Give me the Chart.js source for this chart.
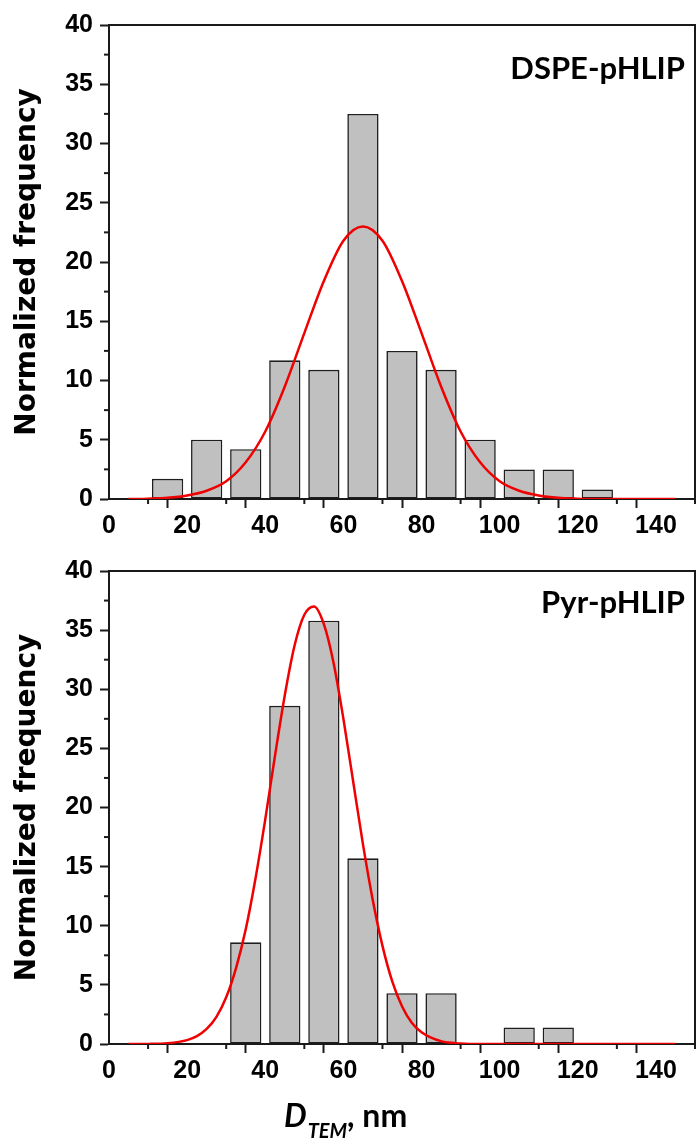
<!DOCTYPE html>
<html lang="en">

<head>
    <meta charset="UTF-8">
    <title>TEM size distribution</title>
    <style>
        body {
            margin: 0;
            background-color: #ffffff;
        }

        .panel {
            position: relative;
            width: 698px;
        }

        #topPanel {
            height: 545px;
        }

        #bottomPanel {
            height: 598px;
        }
    </style>
</head>

<body>
    <div class="panel" id="topPanel"><canvas id="dspeChart"></canvas></div>
    <div class="panel" id="bottomPanel"><canvas id="pyrChart"></canvas></div>

    <script src="https://cdn.jsdelivr.net/npm/chart.js"></script>
    <script>
        // histogram bins (nm) and normalized frequencies
        const binCenters = [15, 25, 35, 45, 55, 65, 75, 85, 95, 105, 115, 125];
        const dspeFreq = [1.7, 5.0, 4.2, 11.7, 10.9, 32.5, 12.5, 10.9, 5.0, 2.5, 2.5, 0.8];
        const pyrFreq = [null, null, 8.6, 28.6, 35.8, 15.7, 4.3, 4.3, null, 1.4, 1.4, null];

        // fitted curves
        const dspeFitX = [5, 10, 15, 20, 25, 30, 35, 40, 45, 50, 55, 60, 65, 70, 75, 80, 85, 90, 95, 100, 105, 110, 115, 120, 125, 130, 135, 140, 145];
        const dspeFitY = [0, 0.03, 0.1, 0.3, 0.7, 1.5, 3.1, 5.7, 9.5, 14.0, 18.4, 21.8, 23.0, 21.8, 18.4, 14.0, 9.5, 5.7, 3.1, 1.5, 0.7, 0.3, 0.1, 0.03, 0, 0, 0, 0, 0];
        const pyrFitX = [5, 10, 15, 20, 22.5, 25, 27.5, 30, 32.5, 35, 37.5, 40, 42.5, 45, 47.5, 50, 52.5, 55, 57.5, 60, 62.5, 65, 67.5, 70, 72.5, 75, 77.5, 80, 85, 90, 95, 100, 110, 120, 130, 140, 145];
        const pyrFitY = [0, 0.01, 0.07, 0.33, 0.66, 1.27, 2.3, 3.95, 6.4, 9.7, 14.0, 19.0, 24.4, 29.5, 33.7, 36.3, 37.0, 35.5, 32.2, 27.5, 22.2, 16.9, 12.2, 8.3, 5.3, 3.2, 1.8, 1.0, 0.24, 0.05, 0, 0, 0, 0, 0, 0, 0];

        const xTicks = { min: 0, max: 150, step: 10, labelEvery: 20 };
        const yTicks = { min: 0, max: 40, step: 2.5, labelEvery: 5 };

        const axisColor = '#1a1a1a';
        const tickFont = { family: 'Liberation Sans', weight: 'bold', size: 25 };

        // short ticks for the unlabeled positions, plus the top/right frame
        const minorTicks = {
            id: 'minorTicks',
            afterDraw(chart) {
                const ctx = chart.ctx;
                ctx.save();
                ctx.strokeStyle = axisColor;
                ctx.lineWidth = 2;
                const xs = chart.scales.x, ys = chart.scales.y;
                xs.ticks.forEach(t => {
                    if (t.value % xTicks.labelEvery !== 0) {
                        const px = xs.getPixelForValue(t.value);
                        ctx.beginPath();
                        ctx.moveTo(px, chart.chartArea.bottom);
                        ctx.lineTo(px, chart.chartArea.bottom + 5);
                        ctx.stroke();
                    }
                });
                ys.ticks.forEach(t => {
                    if (t.value % yTicks.labelEvery !== 0) {
                        const py = ys.getPixelForValue(t.value);
                        ctx.beginPath();
                        ctx.moveTo(chart.chartArea.left, py);
                        ctx.lineTo(chart.chartArea.left - 5, py);
                        ctx.stroke();
                    }
                });
                const a = chart.chartArea;
                ctx.beginPath();
                ctx.moveTo(a.left, a.top);
                ctx.lineTo(a.right, a.top);
                ctx.lineTo(a.right, a.bottom);
                ctx.stroke();
                ctx.restore();
            }
        };

        const panelLabel = {
            id: 'panelLabel',
            afterDraw(chart, args, opts) {
                const ctx = chart.ctx;
                ctx.save();
                ctx.font = 'bold 31px Lato';
                ctx.fillStyle = '#000';
                ctx.textAlign = 'right';
                ctx.textBaseline = 'alphabetic';
                ctx.fillText(opts.text, opts.x, opts.y);
                ctx.restore();
            }
        };

        // "D_TEM, nm" with italic subscript
        const xTitle = {
            id: 'xTitle',
            afterDraw(chart, args, opts) {
                if (!opts.show) return;
                const ctx = chart.ctx;
                ctx.save();
                ctx.fillStyle = '#000';
                ctx.textBaseline = 'alphabetic';
                let x = opts.x;
                const y = opts.y;
                ctx.font = 'italic bold 32px Lato';
                ctx.fillText('D', x, y);
                x += ctx.measureText('D').width + 1;
                ctx.font = 'italic bold 20px Lato';
                ctx.fillText('TEM', x, y + 11);
                x += ctx.measureText('TEM').width;
                ctx.font = 'bold 32px Lato';
                ctx.fillText(', nm', x, y);
                ctx.restore();
            }
        };

        function makeChart(id, freq, fitX, fitY, label, opts) {
            const ctx = document.getElementById(id).getContext('2d');
            return new Chart(ctx, {
                type: 'bar',
                data: {
                    datasets: [{
                        type: 'line',
                        data: fitX.map((x, i) => ({ x: x, y: fitY[i] })),
                        borderColor: '#f00000',
                        borderWidth: 2.5,
                        pointRadius: 0,
                        cubicInterpolationMode: 'monotone',
                        order: 0
                    }, {
                        type: 'bar',
                        data: binCenters.map((x, i) => ({ x: x, y: freq[i] })),
                        backgroundColor: '#c0c0c0',
                        borderColor: '#1e1e1e',
                        borderWidth: 1.6,
                        borderSkipped: false,
                        barPercentage: 0.8,
                        categoryPercentage: 1.0,
                        order: 1
                    }]
                },
                options: {
                    responsive: true,
                    maintainAspectRatio: false,
                    animation: false,
                    layout: { padding: { top: opts.top, right: 1, left: 0, bottom: 0 } },
                    plugins: {
                        legend: { display: false },
                        tooltip: { enabled: false },
                        panelLabel: { text: label, x: 685, y: opts.labelY },
                        xTitle: { show: opts.showTitle, x: 284, y: 582 }
                    },
                    scales: {
                        x: {
                            type: 'linear',
                            offset: false,
                            min: xTicks.min,
                            max: xTicks.max,
                            afterFit: s => { s.height = opts.xHeight; },
                            border: { display: true, color: axisColor, width: 2 },
                            grid: {
                                drawOnChartArea: false,
                                tickLength: 9,
                                tickWidth: 2,
                                tickColor: c => c.tick && c.tick.value % xTicks.labelEvery === 0 ? axisColor : 'rgba(0,0,0,0)'
                            },
                            ticks: {
                                stepSize: xTicks.step,
                                autoSkip: false,
                                maxRotation: 0,
                                padding: 3,
                                color: '#000',
                                font: tickFont,
                                callback: v => v % xTicks.labelEvery === 0 ? v : ''
                            }
                        },
                        y: {
                            min: yTicks.min,
                            max: yTicks.max,
                            afterFit: s => { s.width = 109; },
                            border: { display: true, color: axisColor, width: 2 },
                            grid: {
                                drawOnChartArea: false,
                                tickLength: 9,
                                tickWidth: 2,
                                tickColor: c => c.tick && c.tick.value % yTicks.labelEvery === 0 ? axisColor : 'rgba(0,0,0,0)'
                            },
                            ticks: {
                                stepSize: yTicks.step,
                                autoSkip: false,
                                padding: 7,
                                color: '#000',
                                font: tickFont,
                                callback: v => v % yTicks.labelEvery === 0 ? v : ''
                            },
                            title: {
                                display: true,
                                text: 'Normalized frequency',
                                color: '#000',
                                padding: { top: 11, bottom: 0 },
                                font: { family: 'DejaVu Sans', weight: 'bold', size: 28 }
                            }
                        }
                    }
                },
                plugins: [minorTicks, panelLabel, xTitle]
            });
        }

        makeChart('dspeChart', dspeFreq, dspeFitX, dspeFitY, 'DSPE-pHLIP',
            { top: 25, xHeight: 46, labelY: 79, showTitle: false });
        makeChart('pyrChart', pyrFreq, pyrFitX, pyrFitY, 'Pyr-pHLIP',
            { top: 26, xHeight: 99, labelY: 68, showTitle: true });
    </script>
</body>

</html>
